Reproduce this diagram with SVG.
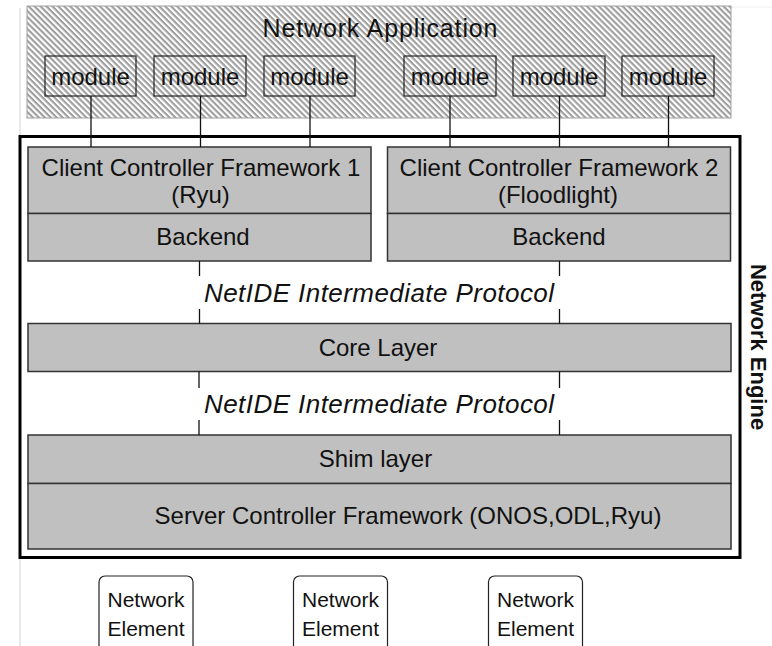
<svg xmlns="http://www.w3.org/2000/svg" width="772" height="646" viewBox="0 0 772 646">
  <style>
    text { font-family: "Liberation Sans", Arial, sans-serif; fill: #111; }
    .t24 { font-size: 24px; text-anchor: middle; }
    .proto { font-size: 26px; font-style: italic; text-anchor: middle; }
    .layer { fill: #c0c0c0; stroke: #333; stroke-width: 1.5; }
    .mod { fill: none; stroke: #222; stroke-width: 1.2; }
    .ne { fill: #fff; stroke: #222; stroke-width: 1.2; }
    .ne-t { font-size: 21px; text-anchor: middle; }
    .conn { stroke: #111; stroke-width: 1.3; fill: none; }
  </style>
  <defs>
    <pattern id="hatch" patternUnits="userSpaceOnUse" width="4.2" height="4.2" patternTransform="rotate(45)">
      <rect width="4.2" height="4.2" fill="#fff"/>
      <rect width="4.2" height="2.1" fill="#9e9e9e"/>
    </pattern>
  </defs>
  <rect width="772" height="646" fill="#fff"/>
  <line x1="20" y1="8" x2="20" y2="646" stroke="#d0d0d0" stroke-width="1"/>
  <line x1="731" y1="7" x2="772" y2="7" stroke="#eeeeee" stroke-width="1"/>

  <g id="network-application">
    <rect x="27" y="6" width="704" height="112" fill="url(#hatch)" stroke="#a0a0a0" stroke-width="1"/>
    <text x="380" y="37" class="t24" style="font-size:25px" textLength="235">Network Application</text>
  </g>
  <g id="module1"><rect class="mod" x="45" y="56" width="91" height="40"/><text class="t24" x="90.5" y="84.5">module</text></g>
  <g id="module2"><rect class="mod" x="154" y="56" width="92" height="40"/><text class="t24" x="200" y="84.5">module</text></g>
  <g id="module3"><rect class="mod" x="264" y="56" width="91" height="40"/><text class="t24" x="309.5" y="84.5">module</text></g>
  <g id="module4"><rect class="mod" x="404" y="56" width="92" height="40"/><text class="t24" x="450" y="84.5">module</text></g>
  <g id="module5"><rect class="mod" x="513" y="56" width="92" height="40"/><text class="t24" x="559" y="84.5">module</text></g>
  <g id="module6"><rect class="mod" x="622" y="56" width="92" height="40"/><text class="t24" x="668" y="84.5">module</text></g>

  <g id="network-engine">
    <rect x="20" y="136.5" width="720" height="421" fill="none" stroke="#000" stroke-width="3"/>
    <text x="0" y="0" transform="translate(751,347) rotate(90)" style="font-size:22px;font-weight:bold;text-anchor:middle" fill="#000">Network Engine</text>
  </g>

  <g id="ccf1">
    <rect class="layer" x="28" y="147" width="343" height="66.5"/>
    <text class="t24" x="201" y="176">Client Controller Framework 1</text>
    <text class="t24" x="200.5" y="203">(Ryu)</text>
  </g>
  <g id="backend1">
    <rect class="layer" x="28" y="213.5" width="343" height="47.5"/>
    <text class="t24" x="203" y="245">Backend</text>
  </g>
  <g id="ccf2">
    <rect class="layer" x="387.5" y="147" width="343" height="66.5"/>
    <text class="t24" x="559" y="176">Client Controller Framework 2</text>
    <text class="t24" x="558" y="203">(Floodlight)</text>
  </g>
  <g id="backend2">
    <rect class="layer" x="387.5" y="213.5" width="343" height="47.5"/>
    <text class="t24" x="559" y="245">Backend</text>
  </g>

  <g id="protocol1">
    <text class="proto" x="379" y="302" textLength="350">NetIDE Intermediate Protocol</text>
  </g>
  <g id="core-layer">
    <rect class="layer" x="28" y="323.5" width="703" height="48"/>
    <text class="t24" x="378" y="356">Core Layer</text>
  </g>
  <g id="protocol2">
    <text class="proto" x="379" y="413" textLength="350">NetIDE Intermediate Protocol</text>
  </g>
  <g id="shim-layer">
    <rect class="layer" x="28" y="435" width="703" height="48.5"/>
    <text class="t24" x="375.5" y="467">Shim layer</text>
  </g>
  <g id="server-framework">
    <rect class="layer" x="28" y="483.5" width="703" height="65.5"/>
    <text class="t24" x="408" y="524">Server Controller Framework (ONOS,ODL,Ryu)</text>
  </g>

  <g id="ne1"><rect class="ne" x="99" y="576" width="94" height="80" rx="6"/><text class="ne-t" x="146" y="607">Network</text><text class="ne-t" x="146" y="636">Element</text></g>
  <g id="ne2"><rect class="ne" x="293.5" y="576" width="94" height="80" rx="6"/><text class="ne-t" x="340.5" y="607">Network</text><text class="ne-t" x="340.5" y="636">Element</text></g>
  <g id="ne3"><rect class="ne" x="488.5" y="576" width="94" height="80" rx="6"/><text class="ne-t" x="535.5" y="607">Network</text><text class="ne-t" x="535.5" y="636">Element</text></g>

  <g id="connectors">
    <line class="conn" x1="91" y1="96" x2="91" y2="147"/>
    <line class="conn" x1="200.5" y1="96" x2="200.5" y2="147"/>
    <line class="conn" x1="310" y1="96" x2="310" y2="147"/>
    <line class="conn" x1="450" y1="96" x2="450" y2="147"/>
    <line class="conn" x1="559.5" y1="96" x2="559.5" y2="147"/>
    <line class="conn" x1="668.5" y1="96" x2="668.5" y2="147"/>
    <line class="conn" x1="199.5" y1="261" x2="199.5" y2="276"/>
    <line class="conn" x1="199.5" y1="309" x2="199.5" y2="323.5"/>
    <line class="conn" x1="559.5" y1="261" x2="559.5" y2="276"/>
    <line class="conn" x1="559.5" y1="309" x2="559.5" y2="323.5"/>
    <line class="conn" x1="199" y1="371.5" x2="199" y2="388"/>
    <line class="conn" x1="199" y1="420" x2="199" y2="435"/>
    <line class="conn" x1="559.5" y1="371.5" x2="559.5" y2="388"/>
    <line class="conn" x1="559.5" y1="420" x2="559.5" y2="435"/>
  </g>
</svg>
